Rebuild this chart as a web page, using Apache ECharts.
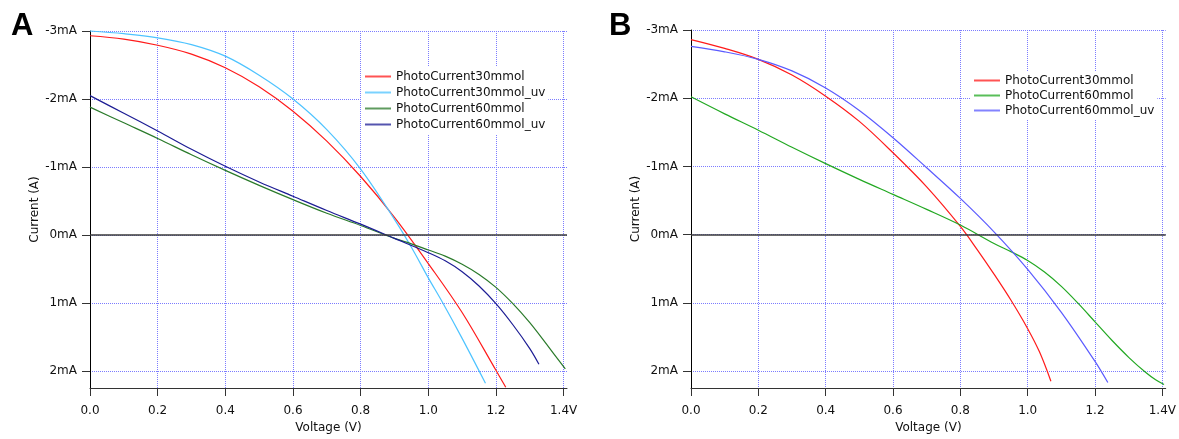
<!DOCTYPE html>
<html>
<head>
<meta charset="utf-8">
<script src="https://cdn.jsdelivr.net/npm/echarts@6/dist/echarts.min.js"></script>
<style>
html,body{margin:0;padding:0;background:#fff;}
#chart{width:1179px;height:439px;}
</style>
</head>
<body>
<div id="chart"></div>
<script>
// ---- Data (voltage in V, current in mA) ----
const X_TICKS = [0, 0.2, 0.4, 0.6, 0.8, 1.0, 1.2, 1.4];
const Y_TICKS = [-3, -2, -1, 0, 1, 2];

const NAMES_A = ['PhotoCurrent30mmol', 'PhotoCurrent30mmol_uv', 'PhotoCurrent60mmol', 'PhotoCurrent60mmol_uv'];
const NAMES_B = ['PhotoCurrent30mmol', 'PhotoCurrent60mmol', 'PhotoCurrent60mmol_uv'];

// Panel A
const A_30_V = [0, 0.1, 0.2, 0.3, 0.4, 0.5, 0.6, 0.7, 0.8, 0.9, 1.0, 1.1, 1.2, 1.229];
const A_30_I = [-2.93, -2.88, -2.79, -2.66, -2.46, -2.18, -1.82, -1.38, -0.86, -0.26, 0.42, 1.14, 1.99, 2.24];
const A_30UV_V = [0, 0.1, 0.2, 0.3, 0.4, 0.5, 0.6, 0.7, 0.8, 0.9, 0.95, 1.0, 1.043, 1.1, 1.169];
const A_30UV_I = [-3.0, -2.96, -2.90, -2.80, -2.63, -2.35, -2.0, -1.55, -0.97, -0.23, 0.18, 0.63, 1.0, 1.52, 2.18];
const A_60_V = [0, 0.1, 0.2, 0.3, 0.4, 0.5, 0.6, 0.7, 0.8, 0.9, 0.95, 1.0, 1.05, 1.1, 1.15, 1.2, 1.25, 1.3, 1.35, 1.405];
const A_60_I = [-1.88, -1.65, -1.42, -1.18, -0.95, -0.73, -0.52, -0.32, -0.14, 0.05, 0.13, 0.22, 0.31, 0.43, 0.58, 0.77, 1.01, 1.29, 1.61, 1.97];
const A_60UV_V = [0, 0.1, 0.2, 0.3, 0.4, 0.5, 0.6, 0.7, 0.8, 0.9, 1.0, 1.05, 1.1, 1.15, 1.2, 1.25, 1.3, 1.327];
const A_60UV_I = [-2.05, -1.79, -1.53, -1.26, -1.01, -0.78, -0.57, -0.36, -0.16, 0.05, 0.26, 0.38, 0.54, 0.75, 1.01, 1.32, 1.67, 1.90];

// Panel B
const B_30_V = [0, 0.1, 0.2, 0.3, 0.4, 0.5, 0.6, 0.7, 0.8, 0.85, 0.9, 0.95, 1.0, 1.035, 1.069];
const B_30_I = [-2.86, -2.73, -2.57, -2.34, -2.03, -1.66, -1.20, -0.70, -0.12, 0.22, 0.58, 0.96, 1.38, 1.72, 2.15];
const B_60_V = [0, 0.1, 0.2, 0.3, 0.4, 0.5, 0.6, 0.7, 0.8, 0.9, 0.95, 1.0, 1.05, 1.1, 1.15, 1.2, 1.25, 1.3, 1.35, 1.38, 1.405];
const B_60_I = [-2.02, -1.77, -1.53, -1.28, -1.04, -0.81, -0.59, -0.37, -0.14, 0.13, 0.25, 0.38, 0.55, 0.76, 1.01, 1.28, 1.55, 1.80, 2.02, 2.13, 2.20];
const B_60UV_V = [0, 0.1, 0.2, 0.3, 0.4, 0.5, 0.6, 0.7, 0.8, 0.9, 1.0, 1.1, 1.2, 1.238];
const B_60UV_I = [-2.76, -2.68, -2.57, -2.40, -2.15, -1.82, -1.42, -0.98, -0.53, -0.04, 0.51, 1.14, 1.86, 2.17];

// ---- Build ----
const FONT = 'DejaVu Sans';
const GRID_LINE = { color: '#7c7cff', type: [1, 1], width: 1 };
function pairs(v, i) { return v.map((x, k) => [x, i[k]]); }

function xAxisCfg(gi) {
  return {
    type: 'value', gridIndex: gi, min: 0, max: 1.41,
    name: 'Voltage (V)', nameLocation: 'middle', nameGap: 34,
    nameTextStyle: { fontFamily: FONT, fontSize: 12, color: '#111' },
    axisLine: { onZero: false, lineStyle: { color: '#333', width: 1 } },
    axisTick: { show: true, length: 8, customValues: X_TICKS, lineStyle: { color: '#333' } },
    axisLabel: {
      customValues: X_TICKS, margin: 17, fontFamily: FONT, fontSize: 12, color: '#111',
      formatter: v => Math.abs(v - 1.4) < 1e-6 ? '1.4V' : v.toFixed(1)
    },
    splitLine: { show: true, lineStyle: GRID_LINE }
  };
}
function yAxisCfg(gi) {
  return {
    type: 'value', gridIndex: gi, min: -3, max: 2.25, inverse: true,
    name: 'Current (A)', nameLocation: 'middle', nameGap: 33,
    nameTextStyle: { fontFamily: FONT, fontSize: 12, color: '#111' },
    axisLine: { show: true, onZero: false, lineStyle: { color: '#000', width: 1 } },
    axisTick: { show: true, length: 8, customValues: Y_TICKS, lineStyle: { color: '#333' } },
    axisLabel: {
      customValues: Y_TICKS, margin: 13, fontFamily: FONT, fontSize: 12, color: '#111',
      formatter: v => (Math.abs(v - Math.round(v)) < 1e-6 ? Math.round(v) + 'mA' : '')
    },
    splitLine: { show: true, lineStyle: GRID_LINE }
  };
}
function lineSeries(name, gi, data, color, withZero) {
  const s = {
    name: name, type: 'line', xAxisIndex: gi, yAxisIndex: gi,
    data: data, showSymbol: false, symbol: 'none', smooth: 0.35, clip: false,
    lineStyle: { color: color, width: 1.2 }, itemStyle: { color: color },
    emphasis: { disabled: true }, silent: true, animation: false
  };
  if (withZero) {
    s.markLine = {
      silent: true, symbol: ['none', 'none'], animation: false,
      label: { show: false },
      lineStyle: { color: '#3a3a3a', width: 1.6, type: 'solid' },
      data: [{ yAxis: 0 }]
    };
  }
  return s;
}

const COLORS_A = ['#ff1a1a', '#4dc3ff', '#2a7a2a', '#1c1c94'];
const COLORS_B = ['#ff1a1a', '#22a822', '#5a5aff'];

const series = [
  lineSeries('A:' + NAMES_A[0], 0, pairs(A_30_V, A_30_I), COLORS_A[0], true),
  lineSeries('A:' + NAMES_A[1], 0, pairs(A_30UV_V, A_30UV_I), COLORS_A[1]),
  lineSeries('A:' + NAMES_A[2], 0, pairs(A_60_V, A_60_I), COLORS_A[2]),
  lineSeries('A:' + NAMES_A[3], 0, pairs(A_60UV_V, A_60UV_I), COLORS_A[3]),
  lineSeries('B:' + NAMES_B[0], 1, pairs(B_30_V, B_30_I), COLORS_B[0], true),
  lineSeries('B:' + NAMES_B[1], 1, pairs(B_60_V, B_60_I), COLORS_B[1]),
  lineSeries('B:' + NAMES_B[2], 1, pairs(B_60UV_V, B_60UV_I), COLORS_B[2])
];

function legendCfg(prefix, names, left, top, lh) {
  return {
    orient: 'vertical', left: left, top: top,
    data: names.map(n => prefix + n),
    formatter: n => n.slice(2),
    icon: 'rect', itemWidth: 26, itemHeight: 2, itemGap: 0,
    itemStyle: { opacity: 0.75 },
    padding: [2, 3, 2, 3], backgroundColor: '#fff',
    selectedMode: false,
    textStyle: { fontFamily: FONT, fontSize: 12, color: '#111', lineHeight: lh }
  };
}

const option = {
  animation: false,
  backgroundColor: '#fff',
  grid: [
    { left: 90, top: 31, width: 477, height: 362, containLabel: false },
    { left: 691, top: 30, width: 477, height: 362, containLabel: false }
  ],
  xAxis: [xAxisCfg(0), xAxisCfg(1)],
  yAxis: [yAxisCfg(0), yAxisCfg(1)],
  legend: [
    legendCfg('A:', NAMES_A, 362, 66.5, 16),
    legendCfg('B:', NAMES_B, 971, 71, 15)
  ],
  graphic: [
    { type: 'text', left: 11, top: 11, style: { text: 'A', font: 'bold 31px "Liberation Sans"', fill: '#000' } },
    { type: 'text', left: 609, top: 11, style: { text: 'B', font: 'bold 31px "Liberation Sans"', fill: '#000' } }
  ],
  series: series
};

const chart = echarts.init(document.getElementById('chart'), null, { renderer: 'canvas' });
chart.setOption(option);
</script>
</body>
</html>
